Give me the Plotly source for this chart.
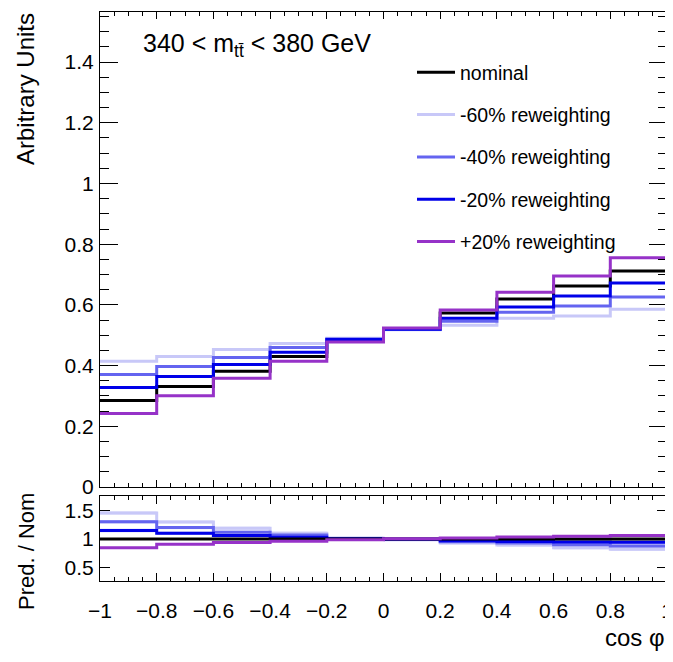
import plotly.graph_objects as go

# ---------------- data ----------------
bin_edges = [-1.0, -0.8, -0.6, -0.4, -0.2, 0.0, 0.2, 0.4, 0.6, 0.8, 1.0]
nominal = [0.285, 0.331, 0.381, 0.430, 0.483, 0.522, 0.573, 0.619, 0.662, 0.712]
rw_m60 = [0.414, 0.430, 0.453, 0.473, 0.490, 0.518, 0.533, 0.556, 0.563, 0.586]
rw_m40 = [0.371, 0.397, 0.427, 0.460, 0.488, 0.519, 0.546, 0.576, 0.596, 0.626]
rw_m20 = [0.328, 0.364, 0.404, 0.444, 0.486, 0.520, 0.556, 0.593, 0.629, 0.672]
rw_p20 = [0.242, 0.301, 0.358, 0.414, 0.478, 0.524, 0.583, 0.642, 0.695, 0.755]

series_names = ["nominal", "-60% reweighting", "-40% reweighting",
                "-20% reweighting", "+20% reweighting"]
series_values = [nominal, rw_m60, rw_m40, rw_m20, rw_p20]
series_colors = ["#000000", "#c8c8f8", "#6464f0", "#0000e8", "#9632c8"]
band_colors = [None, "rgba(200,200,248,0.45)", "rgba(100,100,240,0.30)",
               "rgba(0,0,232,0.25)", None]
band_halfwidth = 0.03

FONT = "Liberation Sans, Arial, Helvetica, sans-serif"

# The page body has an 8px margin, so the figure is drawn 8px right/down.
OFF = 8
W, H = 673, 662 - OFF
# target frame in screenshot pixels
FR_L, FR_R, FR_T, FR_B = 100, 667, 12, 581
MAIN_B, RATIO_T = 487, 496
L, R, T, B = FR_L - OFF, W - (FR_R - OFF), FR_T - OFF, H - (FR_B - OFF)
PW, PH = W - L - R, H - T - B


def py(y):
    """screenshot pixel row -> paper y"""
    return (H - B - (y - OFF)) / PH


def px(x):
    """screenshot pixel column -> paper x"""
    return (x - OFF - L) / PW


def step_y(vals):
    return list(vals) + [vals[-1]]


fig = go.Figure()

# ---------------- main panel ----------------
for i in [0, 1, 2, 3, 4]:
    fig.add_trace(go.Scatter(
        x=bin_edges, y=step_y(series_values[i]), mode="lines",
        line=dict(color=series_colors[i], width=3, shape="hv"),
        name=series_names[i], legendgroup=series_names[i], legendrank=i + 1,
        xaxis="x", yaxis="y", hoverinfo="skip"))

# ---------------- ratio panel ----------------
ratios = [[v / n for v, n in zip(vals, nominal)] for vals in series_values]

for i in [1, 2, 3]:
    r = ratios[i]
    fig.add_trace(go.Scatter(
        x=bin_edges, y=step_y([v - band_halfwidth for v in r]), mode="lines",
        line=dict(width=0, shape="hv"), showlegend=False,
        xaxis="x2", yaxis="y2", hoverinfo="skip"))
    fig.add_trace(go.Scatter(
        x=bin_edges, y=step_y([v + band_halfwidth for v in r]), mode="lines",
        line=dict(width=0, shape="hv"), fill="tonexty",
        fillcolor=band_colors[i], showlegend=False,
        xaxis="x2", yaxis="y2", hoverinfo="skip"))

for i in [1, 2, 3, 0, 4]:
    fig.add_trace(go.Scatter(
        x=bin_edges, y=step_y(ratios[i]), mode="lines",
        line=dict(color=series_colors[i], width=3, shape="hv"),
        showlegend=False, xaxis="x2", yaxis="y2", hoverinfo="skip"))

axis_common = dict(showline=True, linecolor="black", linewidth=1,
                   mirror="ticks", ticks="inside", tickcolor="black",
                   tickwidth=1, showgrid=False, zeroline=False,
                   automargin=False,
                   tickfont=dict(family=FONT, size=21, color="black"))

fig.update_layout(
    width=W, height=H,
    margin=dict(l=L, r=R, t=T, b=B, autoexpand=False),
    paper_bgcolor="white", plot_bgcolor="white",
    font=dict(family=FONT, color="black"),
    xaxis=dict(axis_common, domain=[0, 1], range=[-1, 1], dtick=0.2,
               tick0=-1, ticklen=7, showticklabels=False, anchor="y",
               minor=dict(dtick=0.05, ticklen=4, ticks="inside",
                          tickcolor="black", showgrid=False)),
    yaxis=dict(axis_common, domain=[py(MAIN_B), 1], range=[0, 1.565],
               dtick=0.2, ticklen=18, anchor="x", ticklabelstandoff=1,
               minor=dict(dtick=0.05, ticklen=9, ticks="inside",
                          tickcolor="black", showgrid=False)),
    xaxis2=dict(axis_common, domain=[0, 1], range=[-1, 1], dtick=0.2,
                tick0=-1, ticklen=8, anchor="y2", matches="x",
                ticklabelstandoff=11,
                minor=dict(dtick=0.05, ticklen=4, ticks="inside",
                           tickcolor="black", showgrid=False)),
    yaxis2=dict(axis_common, domain=[0, py(RATIO_T)], range=[0.27, 1.75],
                tickvals=[0.5, 1, 1.5], ticklen=10, anchor="x2",
                ticklabelstandoff=1),
    legend=dict(x=px(412), y=py(53), xanchor="left", yanchor="top",
                bgcolor="rgba(0,0,0,0)", borderwidth=0,
                font=dict(family=FONT, size=19.5, color="black"),
                traceorder="grouped", tracegroupgap=14, itemwidth=38),
    showlegend=True,
)

fig.add_annotation(text="340 < m<sub>tt\u0304</sub> < 380 GeV",
                   xref="paper", yref="paper", x=px(141),
                   y=py(45), xanchor="left", yanchor="middle",
                   showarrow=False,
                   font=dict(family=FONT, size=25, color="black"))
fig.add_annotation(text="Arbitrary Units", textangle=-90,
                   xref="paper", yref="paper", x=px(26),
                   y=py(11), xanchor="center", yanchor="top",
                   showarrow=False,
                   font=dict(family=FONT, size=24, color="black"))
fig.add_annotation(text="Pred. / Nom", textangle=-90,
                   xref="paper", yref="paper", x=px(26),
                   y=py(552), xanchor="center", yanchor="middle",
                   showarrow=False,
                   font=dict(family=FONT, size=22, color="black"))
fig.add_annotation(text="cos \u03c6",
                   xref="paper", yref="paper", x=px(667),
                   y=py(637), xanchor="right", yanchor="middle",
                   showarrow=False,
                   font=dict(family=FONT, size=24, color="black"))

fig.write_html("out.html")
